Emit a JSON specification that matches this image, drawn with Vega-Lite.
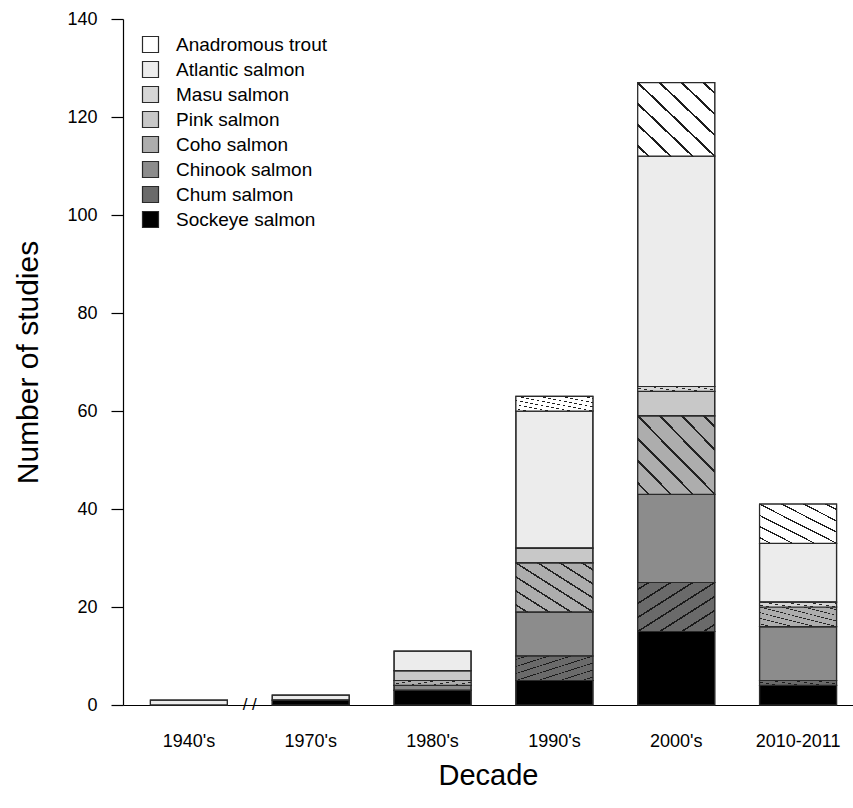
{
  "$schema": "https://vega.github.io/schema/vega-lite/v6.json",
  "autosize": "none",
  "width": 730,
  "height": 686,
  "padding": {"left": 123, "top": 19, "right": 0, "bottom": 103},
  "background": "white",
  "config": {
    "view": {"stroke": null},
    "font": "Liberation Sans",
    "axis": {"labelFont": "Liberation Sans", "titleFont": "Liberation Sans", "labelColor": "#000", "titleColor": "#000", "titleFontWeight": "normal", "domainColor": "#000", "tickColor": "#000", "grid": false},
    "legend": {"labelFont": "Liberation Sans", "labelColor": "#000"}
  },
  "data": {
    "values": [
      {"decade": "1940's", "species": "Atlantic salmon", "n": 1, "ord": 7},
      {"decade": "1970's", "species": "Sockeye salmon", "n": 1, "ord": 1},
      {"decade": "1970's", "species": "Atlantic salmon", "n": 1, "ord": 7},
      {"decade": "1980's", "species": "Sockeye salmon", "n": 3, "ord": 1},
      {"decade": "1980's", "species": "Chinook salmon", "n": 1, "ord": 3},
      {"decade": "1980's", "species": "Coho salmon", "n": 1, "ord": 4},
      {"decade": "1980's", "species": "Pink salmon", "n": 2, "ord": 5},
      {"decade": "1980's", "species": "Atlantic salmon", "n": 4, "ord": 7},
      {"decade": "1990's", "species": "Sockeye salmon", "n": 5, "ord": 1},
      {"decade": "1990's", "species": "Chum salmon", "n": 5, "ord": 2},
      {"decade": "1990's", "species": "Chinook salmon", "n": 9, "ord": 3},
      {"decade": "1990's", "species": "Coho salmon", "n": 10, "ord": 4},
      {"decade": "1990's", "species": "Pink salmon", "n": 3, "ord": 5},
      {"decade": "1990's", "species": "Atlantic salmon", "n": 28, "ord": 7},
      {"decade": "1990's", "species": "Anadromous trout", "n": 3, "ord": 8},
      {"decade": "2000's", "species": "Sockeye salmon", "n": 15, "ord": 1},
      {"decade": "2000's", "species": "Chum salmon", "n": 10, "ord": 2},
      {"decade": "2000's", "species": "Chinook salmon", "n": 18, "ord": 3},
      {"decade": "2000's", "species": "Coho salmon", "n": 16, "ord": 4},
      {"decade": "2000's", "species": "Pink salmon", "n": 5, "ord": 5},
      {"decade": "2000's", "species": "Masu salmon", "n": 1, "ord": 6},
      {"decade": "2000's", "species": "Atlantic salmon", "n": 47, "ord": 7},
      {"decade": "2000's", "species": "Anadromous trout", "n": 15, "ord": 8},
      {"decade": "2010-2011", "species": "Sockeye salmon", "n": 4, "ord": 1},
      {"decade": "2010-2011", "species": "Chum salmon", "n": 1, "ord": 2},
      {"decade": "2010-2011", "species": "Chinook salmon", "n": 11, "ord": 3},
      {"decade": "2010-2011", "species": "Coho salmon", "n": 4, "ord": 4},
      {"decade": "2010-2011", "species": "Masu salmon", "n": 1, "ord": 6},
      {"decade": "2010-2011", "species": "Atlantic salmon", "n": 12, "ord": 7},
      {"decade": "2010-2011", "species": "Anadromous trout", "n": 8, "ord": 8}
    ]
  },
  "encoding": {
    "x": {
      "field": "decade", "type": "nominal",
      "sort": ["1940's", "1970's", "1980's", "1990's", "2000's", "2010-2011"],
      "scale": {"paddingInner": 0.368, "paddingOuter": 0.18, "align": 0.625},
      "axis": {"title": "Decade", "labelAngle": 0, "ticks": false, "tickSize": 0, "labelPadding": 27, "labelFontSize": 18, "titleFontSize": 29, "titlePadding": 11, "domainWidth": 1.2}
    }
  },
  "layer": [
    {
      "mark": {"type": "bar", "stroke": "#2a2a2a", "strokeWidth": 1.2},
      "encoding": {
        "y": {
          "field": "n", "type": "quantitative", "stack": "zero",
          "scale": {"domain": [0, 140], "nice": false},
          "axis": {"title": "Number of studies", "values": [0, 20, 40, 60, 80, 100, 120, 140], "tickSize": 12, "labelPadding": 14, "labelFontSize": 18, "titleFontSize": 30, "titlePadding": 23, "domainWidth": 1.2, "tickWidth": 1.2}
        },
        "order": {"field": "ord", "type": "quantitative"},
        "fill": {
          "field": "species", "type": "nominal",
          "scale": {
            "domain": ["Sockeye salmon", "Chum salmon", "Chinook salmon", "Coho salmon", "Pink salmon", "Masu salmon", "Atlantic salmon", "Anadromous trout"],
            "range": ["#000000", "#6a6a6a", "#8c8c8c", "#adadad", "#c8c8c8", "#d6d6d6", "#ececec", "#ffffff"]
          },
          "legend": null
        }
      }
    },
    {
      "mark": {"type": "bar", "stroke": "#2a2a2a", "strokeWidth": 1.2},
      "encoding": {
        "y": {"field": "n", "type": "quantitative", "stack": "zero"},
        "order": {"field": "ord", "type": "quantitative"},
        "fill": {
          "condition": [
            {"test": "datum.species === 'Anadromous trout'", "value": {"gradient": "linear", "x1": 0, "y1": 1, "x2": 1, "y2": 0, "stops": [
              {"offset": 0, "color": "#ffffff"}, {"offset": 0.0624, "color": "#ffffff"}, {"offset": 0.0624, "color": "#1e1e1e"}, {"offset": 0.0804, "color": "#1e1e1e"}, {"offset": 0.0804, "color": "#ffffff"},
              {"offset": 0.2053, "color": "#ffffff"}, {"offset": 0.2053, "color": "#1e1e1e"}, {"offset": 0.2233, "color": "#1e1e1e"}, {"offset": 0.2233, "color": "#ffffff"},
              {"offset": 0.3481, "color": "#ffffff"}, {"offset": 0.3481, "color": "#1e1e1e"}, {"offset": 0.3661, "color": "#1e1e1e"}, {"offset": 0.3661, "color": "#ffffff"},
              {"offset": 0.491, "color": "#ffffff"}, {"offset": 0.491, "color": "#1e1e1e"}, {"offset": 0.509, "color": "#1e1e1e"}, {"offset": 0.509, "color": "#ffffff"},
              {"offset": 0.6339, "color": "#ffffff"}, {"offset": 0.6339, "color": "#1e1e1e"}, {"offset": 0.6519, "color": "#1e1e1e"}, {"offset": 0.6519, "color": "#ffffff"},
              {"offset": 0.7767, "color": "#ffffff"}, {"offset": 0.7767, "color": "#1e1e1e"}, {"offset": 0.7947, "color": "#1e1e1e"}, {"offset": 0.7947, "color": "#ffffff"},
              {"offset": 0.9196, "color": "#ffffff"}, {"offset": 0.9196, "color": "#1e1e1e"}, {"offset": 0.9376, "color": "#1e1e1e"}, {"offset": 0.9376, "color": "#ffffff"},
              {"offset": 1, "color": "#ffffff"}
            ]}},
            {"test": "datum.species === 'Masu salmon'", "value": {"gradient": "linear", "x1": 0, "y1": 0, "x2": 1, "y2": 1, "stops": [
              {"offset": 0, "color": "#d6d6d6"}, {"offset": 0.0624, "color": "#d6d6d6"}, {"offset": 0.0624, "color": "#262626"}, {"offset": 0.0804, "color": "#262626"}, {"offset": 0.0804, "color": "#d6d6d6"},
              {"offset": 0.2053, "color": "#d6d6d6"}, {"offset": 0.2053, "color": "#262626"}, {"offset": 0.2233, "color": "#262626"}, {"offset": 0.2233, "color": "#d6d6d6"},
              {"offset": 0.3481, "color": "#d6d6d6"}, {"offset": 0.3481, "color": "#262626"}, {"offset": 0.3661, "color": "#262626"}, {"offset": 0.3661, "color": "#d6d6d6"},
              {"offset": 0.491, "color": "#d6d6d6"}, {"offset": 0.491, "color": "#262626"}, {"offset": 0.509, "color": "#262626"}, {"offset": 0.509, "color": "#d6d6d6"},
              {"offset": 0.6339, "color": "#d6d6d6"}, {"offset": 0.6339, "color": "#262626"}, {"offset": 0.6519, "color": "#262626"}, {"offset": 0.6519, "color": "#d6d6d6"},
              {"offset": 0.7767, "color": "#d6d6d6"}, {"offset": 0.7767, "color": "#262626"}, {"offset": 0.7947, "color": "#262626"}, {"offset": 0.7947, "color": "#d6d6d6"},
              {"offset": 0.9196, "color": "#d6d6d6"}, {"offset": 0.9196, "color": "#262626"}, {"offset": 0.9376, "color": "#262626"}, {"offset": 0.9376, "color": "#d6d6d6"},
              {"offset": 1, "color": "#d6d6d6"}
            ]}},
            {"test": "datum.species === 'Coho salmon'", "value": {"gradient": "linear", "x1": 0, "y1": 1, "x2": 1, "y2": 0, "stops": [
              {"offset": 0, "color": "#adadad"}, {"offset": 0.0624, "color": "#adadad"}, {"offset": 0.0624, "color": "#222222"}, {"offset": 0.0804, "color": "#222222"}, {"offset": 0.0804, "color": "#adadad"},
              {"offset": 0.2053, "color": "#adadad"}, {"offset": 0.2053, "color": "#222222"}, {"offset": 0.2233, "color": "#222222"}, {"offset": 0.2233, "color": "#adadad"},
              {"offset": 0.3481, "color": "#adadad"}, {"offset": 0.3481, "color": "#222222"}, {"offset": 0.3661, "color": "#222222"}, {"offset": 0.3661, "color": "#adadad"},
              {"offset": 0.491, "color": "#adadad"}, {"offset": 0.491, "color": "#222222"}, {"offset": 0.509, "color": "#222222"}, {"offset": 0.509, "color": "#adadad"},
              {"offset": 0.6339, "color": "#adadad"}, {"offset": 0.6339, "color": "#222222"}, {"offset": 0.6519, "color": "#222222"}, {"offset": 0.6519, "color": "#adadad"},
              {"offset": 0.7767, "color": "#adadad"}, {"offset": 0.7767, "color": "#222222"}, {"offset": 0.7947, "color": "#222222"}, {"offset": 0.7947, "color": "#adadad"},
              {"offset": 0.9196, "color": "#adadad"}, {"offset": 0.9196, "color": "#222222"}, {"offset": 0.9376, "color": "#222222"}, {"offset": 0.9376, "color": "#adadad"},
              {"offset": 1, "color": "#adadad"}
            ]}},
            {"test": "datum.species === 'Chum salmon'", "value": {"gradient": "linear", "x1": 0, "y1": 0, "x2": 1, "y2": 1, "stops": [
              {"offset": 0, "color": "#6a6a6a"}, {"offset": 0.0624, "color": "#6a6a6a"}, {"offset": 0.0624, "color": "#1a1a1a"}, {"offset": 0.0804, "color": "#1a1a1a"}, {"offset": 0.0804, "color": "#6a6a6a"},
              {"offset": 0.2053, "color": "#6a6a6a"}, {"offset": 0.2053, "color": "#1a1a1a"}, {"offset": 0.2233, "color": "#1a1a1a"}, {"offset": 0.2233, "color": "#6a6a6a"},
              {"offset": 0.3481, "color": "#6a6a6a"}, {"offset": 0.3481, "color": "#1a1a1a"}, {"offset": 0.3661, "color": "#1a1a1a"}, {"offset": 0.3661, "color": "#6a6a6a"},
              {"offset": 0.491, "color": "#6a6a6a"}, {"offset": 0.491, "color": "#1a1a1a"}, {"offset": 0.509, "color": "#1a1a1a"}, {"offset": 0.509, "color": "#6a6a6a"},
              {"offset": 0.6339, "color": "#6a6a6a"}, {"offset": 0.6339, "color": "#1a1a1a"}, {"offset": 0.6519, "color": "#1a1a1a"}, {"offset": 0.6519, "color": "#6a6a6a"},
              {"offset": 0.7767, "color": "#6a6a6a"}, {"offset": 0.7767, "color": "#1a1a1a"}, {"offset": 0.7947, "color": "#1a1a1a"}, {"offset": 0.7947, "color": "#6a6a6a"},
              {"offset": 0.9196, "color": "#6a6a6a"}, {"offset": 0.9196, "color": "#1a1a1a"}, {"offset": 0.9376, "color": "#1a1a1a"}, {"offset": 0.9376, "color": "#6a6a6a"},
              {"offset": 1, "color": "#6a6a6a"}
            ]}}
          ],
          "value": null
        }
      }
    },
    {
      "data": {"values": [
        {"sp": "Anadromous trout"}, {"sp": "Atlantic salmon"}, {"sp": "Masu salmon"}, {"sp": "Pink salmon"},
        {"sp": "Coho salmon"}, {"sp": "Chinook salmon"}, {"sp": "Chum salmon"}, {"sp": "Sockeye salmon"}
      ]},
      "transform": [{"filter": "false"}],
      "mark": {"type": "point", "filled": true, "opacity": 1},
      "encoding": {
        "color": {
          "field": "sp", "type": "nominal",
          "scale": {
            "domain": ["Anadromous trout", "Atlantic salmon", "Masu salmon", "Pink salmon", "Coho salmon", "Chinook salmon", "Chum salmon", "Sockeye salmon"],
            "range": ["#ffffff", "#ececec", "#d6d6d6", "#c8c8c8", "#adadad", "#8c8c8c", "#6a6a6a", "#000000"]
          },
          "legend": {
            "title": null, "orient": "none", "legendX": 18, "legendY": 16, "padding": 0,
            "symbolSize": 256, "symbolStrokeWidth": 1.2, "labelFontSize": 19, "labelOffset": 16, "rowPadding": 4
          }
        },
        "shape": {
          "field": "sp", "type": "nominal",
          "scale": {
            "domain": ["Anadromous trout", "Atlantic salmon", "Masu salmon", "Pink salmon", "Coho salmon", "Chinook salmon", "Chum salmon", "Sockeye salmon"],
            "range": ["square", "square", "square", "square", "square", "square", "square", "square"]
          },
          "legend": {
            "title": null, "orient": "none", "legendX": 18, "legendY": 16, "padding": 0,
            "symbolSize": 256, "symbolStrokeWidth": 1.2, "labelFontSize": 19, "labelOffset": 16, "rowPadding": 4
          }
        },
        "stroke": {
          "field": "sp", "type": "nominal",
          "scale": {
            "domain": ["Anadromous trout", "Atlantic salmon", "Masu salmon", "Pink salmon", "Coho salmon", "Chinook salmon", "Chum salmon", "Sockeye salmon"],
            "range": ["#2a2a2a", "#2a2a2a", "#2a2a2a", "#2a2a2a", "#2a2a2a", "#2a2a2a", "#2a2a2a", "#2a2a2a"]
          },
          "legend": {
            "title": null, "orient": "none", "legendX": 18, "legendY": 16, "padding": 0,
            "symbolSize": 256, "symbolStrokeWidth": 1.2, "labelFontSize": 19, "labelOffset": 16, "rowPadding": 4
          }
        }
      }
    },
    {
      "data": {"values": [{"decade": "1940's", "lab": "/ /", "base": 0}]},
      "mark": {"type": "text", "fontSize": 17, "color": "#000000", "baseline": "middle", "align": "center"},
      "encoding": {
        "x": {"field": "decade", "type": "nominal", "bandPosition": 1.29},
        "y": {"field": "base", "type": "quantitative"},
        "text": {"field": "lab"}
      }
    }
  ]
}
